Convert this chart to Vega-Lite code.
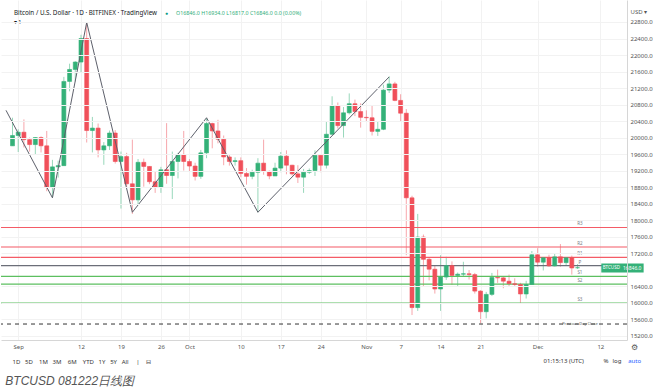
{
  "$schema": "https://vega.github.io/schema/vega-lite/v6.json",
  "width": 626,
  "height": 340,
  "padding": {"left": 0, "top": 0, "right": 0, "bottom": 0},
  "background": "white",
  "config": {"view": {"stroke": null}, "font": "Noto Sans", "axis": {"labelOverlap": false, "labelBound": false}},
  "title": {"text": "BTCUSD 081222日线图", "orient": "bottom", "anchor": "start", "fontStyle": "italic", "fontWeight": "normal", "fontSize": 12, "color": "#555555", "font": "Liberation Sans", "offset": 12, "dx": 5},
  "datasets": {
    "candles": [
      {"d": "2022-08-31", "o": 19800, "h": 20480, "l": 19800, "c": 20050},
      {"d": "2022-09-01", "o": 20050, "h": 20200, "l": 19650, "c": 20130},
      {"d": "2022-09-02", "o": 20130, "h": 20440, "l": 19760, "c": 19950},
      {"d": "2022-09-03", "o": 19950, "h": 20000, "l": 19660, "c": 19830},
      {"d": "2022-09-04", "o": 19830, "h": 20010, "l": 19600, "c": 20000},
      {"d": "2022-09-05", "o": 20000, "h": 20030, "l": 19640, "c": 19800},
      {"d": "2022-09-06", "o": 19800, "h": 20160, "l": 18700, "c": 18790},
      {"d": "2022-09-07", "o": 18790, "h": 19460, "l": 18540, "c": 19290},
      {"d": "2022-09-08", "o": 19290, "h": 19440, "l": 19030, "c": 19320},
      {"d": "2022-09-09", "o": 19320, "h": 21470, "l": 19320, "c": 21360},
      {"d": "2022-09-10", "o": 21360, "h": 21790, "l": 21120, "c": 21650},
      {"d": "2022-09-11", "o": 21650, "h": 21850, "l": 21360, "c": 21830},
      {"d": "2022-09-12", "o": 21830, "h": 22490, "l": 21570, "c": 22400},
      {"d": "2022-09-13", "o": 22400, "h": 22790, "l": 19880, "c": 20170},
      {"d": "2022-09-14", "o": 20170, "h": 20500, "l": 19640, "c": 20230},
      {"d": "2022-09-15", "o": 20230, "h": 20340, "l": 19520, "c": 19700},
      {"d": "2022-09-16", "o": 19700, "h": 19890, "l": 19340, "c": 19800},
      {"d": "2022-09-17", "o": 19800, "h": 20170, "l": 19700, "c": 20110},
      {"d": "2022-09-18", "o": 20110, "h": 20180, "l": 19370, "c": 19420},
      {"d": "2022-09-19", "o": 19420, "h": 19660, "l": 18280, "c": 19540},
      {"d": "2022-09-20", "o": 19540, "h": 19630, "l": 18790, "c": 18880},
      {"d": "2022-09-21", "o": 18880, "h": 19950, "l": 18150, "c": 18490},
      {"d": "2022-09-22", "o": 18490, "h": 19480, "l": 18380, "c": 19400},
      {"d": "2022-09-23", "o": 19400, "h": 19490, "l": 18810, "c": 19300},
      {"d": "2022-09-24", "o": 19300, "h": 19310, "l": 18870, "c": 18930},
      {"d": "2022-09-25", "o": 18930, "h": 19180, "l": 18660, "c": 18800},
      {"d": "2022-09-26", "o": 18800, "h": 19290, "l": 18660, "c": 19220},
      {"d": "2022-09-27", "o": 19220, "h": 20350, "l": 18880, "c": 19080},
      {"d": "2022-09-28", "o": 19080, "h": 19660, "l": 18510, "c": 19420},
      {"d": "2022-09-29", "o": 19420, "h": 19630, "l": 19010, "c": 19590},
      {"d": "2022-09-30", "o": 19590, "h": 20160, "l": 19200, "c": 19420},
      {"d": "2022-10-01", "o": 19420, "h": 19480, "l": 19190, "c": 19310},
      {"d": "2022-10-02", "o": 19310, "h": 19390, "l": 18960, "c": 19060},
      {"d": "2022-10-03", "o": 19060, "h": 19700, "l": 19000, "c": 19630},
      {"d": "2022-10-04", "o": 19630, "h": 20470, "l": 19500, "c": 20340},
      {"d": "2022-10-05", "o": 20340, "h": 20360, "l": 19740, "c": 20160},
      {"d": "2022-10-06", "o": 20160, "h": 20430, "l": 19860, "c": 19960},
      {"d": "2022-10-07", "o": 19960, "h": 20050, "l": 19330, "c": 19530},
      {"d": "2022-10-08", "o": 19530, "h": 19600, "l": 19320, "c": 19420},
      {"d": "2022-10-09", "o": 19420, "h": 19520, "l": 19320, "c": 19440},
      {"d": "2022-10-10", "o": 19440, "h": 19520, "l": 19040, "c": 19130},
      {"d": "2022-10-11", "o": 19130, "h": 19260, "l": 18860, "c": 19060},
      {"d": "2022-10-12", "o": 19060, "h": 19220, "l": 18990, "c": 19160},
      {"d": "2022-10-13", "o": 19160, "h": 19500, "l": 18190, "c": 19380},
      {"d": "2022-10-14", "o": 19380, "h": 19950, "l": 19100, "c": 19180},
      {"d": "2022-10-15", "o": 19180, "h": 19200, "l": 18990, "c": 19070},
      {"d": "2022-10-16", "o": 19070, "h": 19390, "l": 19070, "c": 19260},
      {"d": "2022-10-17", "o": 19260, "h": 19650, "l": 19160, "c": 19550},
      {"d": "2022-10-18", "o": 19550, "h": 19690, "l": 19110, "c": 19330},
      {"d": "2022-10-19", "o": 19330, "h": 19340, "l": 19080, "c": 19120},
      {"d": "2022-10-20", "o": 19120, "h": 19330, "l": 18900, "c": 19040},
      {"d": "2022-10-21", "o": 19040, "h": 19240, "l": 18660, "c": 19160},
      {"d": "2022-10-22", "o": 19160, "h": 19250, "l": 19120, "c": 19200},
      {"d": "2022-10-23", "o": 19200, "h": 19690, "l": 19070, "c": 19570},
      {"d": "2022-10-24", "o": 19570, "h": 19600, "l": 19160, "c": 19330},
      {"d": "2022-10-25", "o": 19330, "h": 20400, "l": 19250, "c": 20080},
      {"d": "2022-10-26", "o": 20080, "h": 21000, "l": 20060, "c": 20770},
      {"d": "2022-10-27", "o": 20770, "h": 20850, "l": 20220, "c": 20290},
      {"d": "2022-10-28", "o": 20290, "h": 20740, "l": 20000, "c": 20600},
      {"d": "2022-10-29", "o": 20600, "h": 21070, "l": 20560, "c": 20820},
      {"d": "2022-10-30", "o": 20820, "h": 20920, "l": 20520, "c": 20630},
      {"d": "2022-10-31", "o": 20630, "h": 20830, "l": 20240, "c": 20490},
      {"d": "2022-11-01", "o": 20490, "h": 20660, "l": 20400, "c": 20480},
      {"d": "2022-11-02", "o": 20480, "h": 20780, "l": 20050, "c": 20150},
      {"d": "2022-11-03", "o": 20150, "h": 20380, "l": 20040, "c": 20200},
      {"d": "2022-11-04", "o": 20200, "h": 21280, "l": 20180, "c": 21150},
      {"d": "2022-11-05", "o": 21150, "h": 21480, "l": 21080, "c": 21300},
      {"d": "2022-11-06", "o": 21300, "h": 21350, "l": 20880, "c": 20900},
      {"d": "2022-11-07", "o": 20900, "h": 21050, "l": 20390, "c": 20590},
      {"d": "2022-11-08", "o": 20590, "h": 20690, "l": 17150, "c": 18540},
      {"d": "2022-11-09", "o": 18540, "h": 18590, "l": 15700, "c": 15880},
      {"d": "2022-11-10", "o": 15880, "h": 18150, "l": 15800, "c": 17590},
      {"d": "2022-11-11", "o": 17590, "h": 17650, "l": 16380, "c": 17050},
      {"d": "2022-11-12", "o": 17050, "h": 17080, "l": 16540, "c": 16810},
      {"d": "2022-11-13", "o": 16810, "h": 16900, "l": 16220, "c": 16330},
      {"d": "2022-11-14", "o": 16330, "h": 17150, "l": 15800, "c": 16620},
      {"d": "2022-11-15", "o": 16620, "h": 17110, "l": 16550, "c": 16900},
      {"d": "2022-11-16", "o": 16900, "h": 17000, "l": 16430, "c": 16660},
      {"d": "2022-11-17", "o": 16660, "h": 16730, "l": 16400, "c": 16690},
      {"d": "2022-11-18", "o": 16690, "h": 16990, "l": 16640, "c": 16700},
      {"d": "2022-11-19", "o": 16700, "h": 16790, "l": 16560, "c": 16680},
      {"d": "2022-11-20", "o": 16680, "h": 16720, "l": 16220, "c": 16280},
      {"d": "2022-11-21", "o": 16280, "h": 16300, "l": 15500, "c": 15780},
      {"d": "2022-11-22", "o": 15780, "h": 16260, "l": 15620, "c": 16200},
      {"d": "2022-11-23", "o": 16200, "h": 16720, "l": 16160, "c": 16610},
      {"d": "2022-11-24", "o": 16610, "h": 16800, "l": 16480, "c": 16600},
      {"d": "2022-11-25", "o": 16600, "h": 16620, "l": 16350, "c": 16520},
      {"d": "2022-11-26", "o": 16520, "h": 16680, "l": 16400, "c": 16460},
      {"d": "2022-11-27", "o": 16460, "h": 16590, "l": 16400, "c": 16440},
      {"d": "2022-11-28", "o": 16440, "h": 16480, "l": 15990, "c": 16210},
      {"d": "2022-11-29", "o": 16210, "h": 16530, "l": 16100, "c": 16440},
      {"d": "2022-11-30", "o": 16440, "h": 17250, "l": 16430, "c": 17160},
      {"d": "2022-12-01", "o": 17160, "h": 17320, "l": 16870, "c": 16980},
      {"d": "2022-12-02", "o": 16980, "h": 17100, "l": 16780, "c": 17090},
      {"d": "2022-12-03", "o": 17090, "h": 17160, "l": 16870, "c": 16890},
      {"d": "2022-12-04", "o": 16890, "h": 17200, "l": 16880, "c": 17110},
      {"d": "2022-12-05", "o": 17110, "h": 17420, "l": 16870, "c": 16970},
      {"d": "2022-12-06", "o": 16970, "h": 17100, "l": 16910, "c": 17090},
      {"d": "2022-12-07", "o": 17090, "h": 17140, "l": 16680, "c": 16840},
      {"d": "2022-12-08", "o": 16846, "h": 16934, "l": 16817, "c": 16846}
    ],
    "zigzag": [
      {"d": "2022-08-29T20:40:00Z", "p": 20660},
      {"d": "2022-09-07", "p": 18540},
      {"d": "2022-09-13", "p": 22790},
      {"d": "2022-09-21", "p": 18190},
      {"d": "2022-10-04", "p": 20480},
      {"d": "2022-10-13", "p": 18190},
      {"d": "2022-11-05", "p": 21470}
    ],
    "levels": [
      {"p": 17821, "k": "R", "t": "R3"},
      {"p": 17348, "k": "R", "t": "R2"},
      {"p": 17099, "k": "R", "t": "R1"},
      {"p": 16895, "k": "P", "t": "P"},
      {"p": 16638, "k": "S", "t": "S1"},
      {"p": 16447, "k": "S", "t": "S2"},
      {"p": 15991, "k": "S", "t": "S3"}
    ],
    "prevclose": [{"p": 15482, "t": "Previous Day Close"}]
  },
  "layer": [
    {
      "data": {"name": "candles"},
      "mark": {"type": "rule", "strokeWidth": 1, "opacity": 0.5},
      "encoding": {
        "x": {"field": "d", "type": "temporal",
          "scale": {"type": "utc", "domain": [{"year": 2022, "month": 8, "date": 29, "hours": 20, "minutes": 40, "utc": true}, {"year": 2022, "month": 12, "date": 15, "hours": 19, "utc": true}]},
          "axis": {"values": [
              {"year": 2022, "month": 9, "date": 1, "utc": true},
              {"year": 2022, "month": 9, "date": 12, "utc": true},
              {"year": 2022, "month": 9, "date": 19, "utc": true},
              {"year": 2022, "month": 9, "date": 26, "utc": true},
              {"year": 2022, "month": 10, "date": 1, "utc": true},
              {"year": 2022, "month": 10, "date": 10, "utc": true},
              {"year": 2022, "month": 10, "date": 17, "utc": true},
              {"year": 2022, "month": 10, "date": 24, "utc": true},
              {"year": 2022, "month": 11, "date": 1, "utc": true},
              {"year": 2022, "month": 11, "date": 7, "utc": true},
              {"year": 2022, "month": 11, "date": 14, "utc": true},
              {"year": 2022, "month": 11, "date": 21, "utc": true},
              {"year": 2022, "month": 12, "date": 1, "utc": true},
              {"year": 2022, "month": 12, "date": 12, "utc": true}],
            "tickCount": 40,
            "labelExpr": "utcdate(datum.value) == 1 ? utcFormat(datum.value, '%b') : utcFormat(datum.value, '%-d')",
            "labelFontSize": 6, "labelColor": "#555555", "labelPadding": 3, "labelOverlap": false, "labelFlush": false,
            "ticks": false, "domainColor": "#d6d6d6", "gridColor": "#f2f2f2",
            "title": "1D\u00a0\u00a0 5D\u00a0\u00a0\u00a0 1M\u00a0\u00a0 3M\u00a0\u00a0\u00a0 6M\u00a0\u00a0\u00a0 YTD\u00a0\u00a0 1Y\u00a0\u00a0 5Y\u00a0\u00a0 All\u00a0\u00a0\u00a0\u00a0 |\u00a0\u00a0\u00a0 ⊟", "titleFontSize": 6, "titleFontWeight": "normal", "titleColor": "#333333",
            "titleAnchor": "start", "titleAlign": "left", "titleX": 11, "titleY": 21, "titleBaseline": "middle"}},
        "y": {"field": "l", "type": "quantitative",
          "scale": {"domain": [15095, 23333], "nice": false, "zero": false},
          "axis": {"orient": "right", "values": [15200, 15600, 16000, 16400, 17200, 17600, 18000, 18400, 18800, 19200, 19600, 20000, 20400, 20800, 21200, 21600, 22000, 22400, 22800],
            "tickCount": 40,
            "format": ".1f", "labelFontSize": 6, "labelColor": "#555555", "labelPadding": 3, "labelOverlap": false, "labelBound": false, "ticks": false,
            "domainColor": "#d6d6d6", "gridColor": "#f2f2f2", "zindex": 2,
            "title": "USD ▾", "titleAngle": 0, "titleX": 3, "titleY": 11, "titleAlign": "left", "titleBaseline": "middle",
            "titleFontSize": 6, "titleFontWeight": "normal", "titleColor": "#555555"}},
        "y2": {"field": "h"},
        "color": {"condition": {"test": "datum.c >= datum.o", "value": "#34b178"}, "value": "#f0505a"}
      }
    },
    {
      "data": {"name": "levels"},
      "transform": [{"filter": "datum.k == 'R'"}],
      "mark": {"type": "rule", "strokeWidth": 1.2, "color": "#f45b66"},
      "encoding": {"y": {"field": "p", "type": "quantitative"}}
    },
    {
      "data": {"name": "levels"},
      "transform": [{"filter": "datum.k == 'P'"}],
      "mark": {"type": "rule", "strokeWidth": 1.3, "color": "#6b6e78"},
      "encoding": {"y": {"field": "p", "type": "quantitative"}}
    },
    {
      "data": {"name": "levels"},
      "transform": [{"filter": "datum.k == 'S'"}],
      "mark": {"type": "rule", "strokeWidth": 1.2, "color": "#5cbf60"},
      "encoding": {"y": {"field": "p", "type": "quantitative"}}
    },
    {
      "data": {"name": "prevclose"},
      "mark": {"type": "rule", "strokeWidth": 1, "strokeDash": [4, 4], "color": "#333333"},
      "encoding": {"y": {"field": "p", "type": "quantitative"}}
    },
    {
      "data": {"name": "candles"},
      "mark": {"type": "bar", "size": 4, "strokeWidth": 0.6},
      "encoding": {
        "x": {"field": "d", "type": "temporal"},
        "y": {"field": "o", "type": "quantitative"},
        "y2": {"field": "c"},
        "color": {"condition": {"test": "datum.c >= datum.o", "value": "#34b178"}, "value": "#f0505a"},
        "stroke": {"condition": {"test": "datum.c >= datum.o", "value": "#34b178"}, "value": "#f0505a"}
      }
    },
    {
      "data": {"name": "zigzag"},
      "mark": {"type": "line", "strokeWidth": 1, "color": "#5d606b"},
      "encoding": {
        "x": {"field": "d", "type": "temporal"},
        "y": {"field": "p", "type": "quantitative"}
      }
    },
    {
      "data": {"name": "levels"},
      "mark": {"type": "text", "fontSize": 4.5, "color": "#787b86", "baseline": "bottom", "dy": -1},
      "encoding": {
        "x": {"datum": {"year": 2022, "month": 12, "date": 8, "hours": 10, "utc": true}, "type": "temporal"},
        "y": {"field": "p", "type": "quantitative"},
        "text": {"field": "t"}
      }
    },
    {
      "data": {"name": "prevclose"},
      "mark": {"type": "text", "fontSize": 4, "color": "#555555", "baseline": "middle"},
      "encoding": {
        "x": {"datum": {"year": 2022, "month": 12, "date": 8, "hours": 10, "utc": true}, "type": "temporal"},
        "y": {"field": "p", "type": "quantitative"},
        "text": {"field": "t"}
      }
    },
    {
      "data": {"values": [{"t": "BTCUSD"}]},
      "mark": {"type": "rect", "color": "#34b178"},
      "encoding": {
        "x": {"datum": {"year": 2022, "month": 12, "date": 12, "hours": 4, "utc": true}, "type": "temporal"},
        "x2": {"datum": {"year": 2022, "month": 12, "date": 19, "hours": 14, "utc": true}},
        "y": {"datum": 16948, "type": "quantitative"},
        "y2": {"datum": 16730}
      }
    },
    {
      "data": {"values": [{"t": "BTCUSD"}]},
      "mark": {"type": "text", "fontSize": 4.5, "color": "white", "baseline": "middle"},
      "encoding": {
        "x": {"datum": {"year": 2022, "month": 12, "date": 13, "hours": 22, "utc": true}, "type": "temporal"},
        "y": {"datum": 16840, "type": "quantitative"},
        "text": {"field": "t"}
      }
    },
    {
      "data": {"values": [{"t": "16846.0"}]},
      "mark": {"type": "text", "fontSize": 5, "color": "white", "baseline": "middle"},
      "encoding": {
        "x": {"datum": {"year": 2022, "month": 12, "date": 17, "hours": 14, "utc": true}, "type": "temporal"},
        "y": {"datum": 16840, "type": "quantitative"},
        "text": {"field": "t"}
      }
    },
    {
      "data": {"values": [{"t": "Bitcoin / U.S. Dollar · 1D · BITFINEX · TradingView"}]},
      "mark": {"type": "text", "fontSize": 6.3, "color": "#131722", "align": "left", "baseline": "middle"},
      "encoding": {
        "x": {"datum": {"year": 2022, "month": 8, "date": 31, "hours": 6, "utc": true}, "type": "temporal"},
        "y": {"datum": 23018, "type": "quantitative"},
        "text": {"field": "t"}
      }
    },
    {
      "data": {"values": [{"t": "▾ 1"}]},
      "mark": {"type": "text", "fontSize": 5.5, "color": "#131722", "align": "left", "baseline": "middle"},
      "encoding": {
        "x": {"datum": {"year": 2022, "month": 8, "date": 31, "hours": 6, "utc": true}, "type": "temporal"},
        "y": {"datum": 22800, "type": "quantitative"},
        "text": {"field": "t"}
      }
    },
    {
      "data": {"values": [{"t": "●"}]},
      "mark": {"type": "text", "fontSize": 5, "color": "#089981", "align": "center", "baseline": "middle"},
      "encoding": {
        "x": {"datum": {"year": 2022, "month": 9, "date": 27, "utc": true}, "type": "temporal"},
        "y": {"datum": 23018, "type": "quantitative"},
        "text": {"field": "t"}
      }
    },
    {
      "data": {"values": [{"t": "O16846.0  H16934.0  L16817.0  C16846.0  0.0 (0.00%)"}]},
      "mark": {"type": "text", "fontSize": 5.3, "color": "#2eae7a", "align": "left", "baseline": "middle"},
      "encoding": {
        "x": {"datum": {"year": 2022, "month": 9, "date": 28, "hours": 16, "utc": true}, "type": "temporal"},
        "y": {"datum": 23018, "type": "quantitative"},
        "text": {"field": "t"}
      }
    },
    {
      "data": {"values": [{"t": "01:15:13 (UTC)"}]},
      "mark": {"type": "text", "fontSize": 6, "color": "#333333", "align": "center", "baseline": "middle"},
      "encoding": {
        "x": {"datum": {"year": 2022, "month": 12, "date": 5, "hours": 14, "utc": true}, "type": "temporal"},
        "y": {"datum": 14586, "type": "quantitative"},
        "text": {"field": "t"}
      }
    },
    {
      "data": {"values": [{"t": "%"}]},
      "mark": {"type": "text", "fontSize": 6, "color": "#333333", "align": "center", "baseline": "middle"},
      "encoding": {
        "x": {"datum": {"year": 2022, "month": 12, "date": 13, "utc": true}, "type": "temporal"},
        "y": {"datum": 14586, "type": "quantitative"},
        "text": {"field": "t"}
      }
    },
    {
      "data": {"values": [{"t": "log"}]},
      "mark": {"type": "text", "fontSize": 6, "color": "#333333", "align": "center", "baseline": "middle"},
      "encoding": {
        "x": {"datum": {"year": 2022, "month": 12, "date": 14, "hours": 22, "utc": true}, "type": "temporal"},
        "y": {"datum": 14586, "type": "quantitative"},
        "text": {"field": "t"}
      }
    },
    {
      "data": {"values": [{"t": "auto"}]},
      "mark": {"type": "text", "fontSize": 6, "color": "#2962ff", "align": "center", "baseline": "middle"},
      "encoding": {
        "x": {"datum": {"year": 2022, "month": 12, "date": 18, "utc": true}, "type": "temporal"},
        "y": {"datum": 14586, "type": "quantitative"},
        "text": {"field": "t"}
      }
    },
    {
      "data": {"values": [{"t": "⚙"}]},
      "mark": {"type": "text", "fontSize": 8, "color": "#555555", "align": "center", "baseline": "middle", "font": "DejaVu Sans"},
      "encoding": {
        "x": {"datum": {"year": 2022, "month": 12, "date": 18, "utc": true}, "type": "temporal"},
        "y": {"datum": 14900, "type": "quantitative"},
        "text": {"field": "t"}
      }
    }
  ]
}
